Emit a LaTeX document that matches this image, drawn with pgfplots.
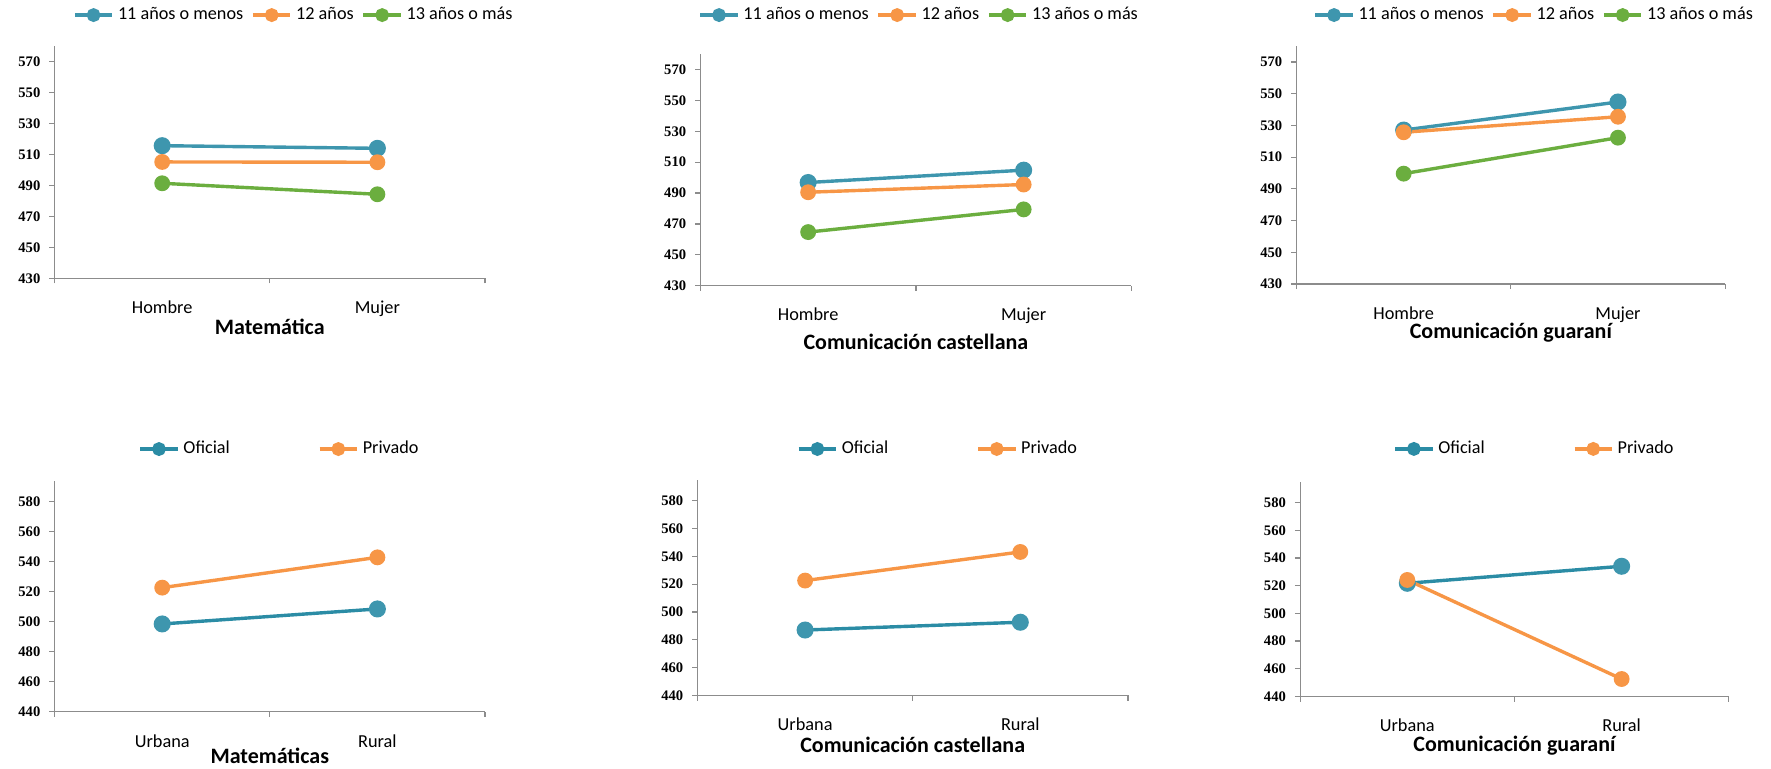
\documentclass[border=0pt]{standalone}
\usepackage{fontspec}
\setmainfont{Carlito}
\newfontfamily\tickfont{Liberation Serif}
\usepackage{pgfplots}
\pgfplotsset{compat=1.18}
\definecolor{cblue}{HTML}{3E96AE}
\definecolor{cblued}{HTML}{2B8CA5}
\definecolor{corange}{HTML}{F79646}
\definecolor{cgreen}{HTML}{6BAE3F}
\definecolor{axgray}{HTML}{8C8C8C}
\pgfplotsset{
  panel/.style={
    scale only axis,
    axis x line*=bottom, axis y line*=left,
    axis line style={-,draw=axgray,line width=0.6pt},
    xmin=0, xmax=2, xtick={0,1,2}, xticklabels={},
    tick align=outside, major tick length=2.6pt,
    tick style={draw=axgray,line width=0.6pt},
    /pgf/number format/assume math mode=true,
    yticklabel style={font=\tickfont\bfseries\fontsize{7.3}{8.5}\selectfont, xshift=-1pt},
    extra x tick style={major tick length=0pt,
      xticklabel style={font=\fontsize{9.15}{11}\selectfont, anchor=base}},
    xlabel style={at={(axis description cs:0.5,0)}, anchor=base, font=\bfseries\fontsize{11}{13}\selectfont},
    legend style={draw=none, fill=none, anchor=center, legend columns=-1,
      font=\fontsize{9.1}{11}\selectfont},
    legend image code/.code={
      \draw[#1,mark=none] (0pt,0pt) -- (18.75pt,0pt);
      \fill[#1] (9.375pt,0pt) circle (2.6pt);},
    clip=false,
  },
  sb/.style={color=cblue, line width=1.7pt, mark=*, mark size=3.4pt},
  so/.style={color=corange, line width=1.7pt, mark=*, mark size=3.1pt},
  sg/.style={color=cgreen, line width=1.7pt, mark=*, mark size=3.1pt},
  sbd/.style={color=cblued, line width=1.7pt, mark=*, mark size=3.4pt, mark options={fill=cblue,draw=cblue}},
}
\begin{document}
\begin{tikzpicture}
% ---------- Top row ----------
\begin{axis}[panel, at={(27.3pt,-139.15pt)}, anchor=south west,
  width=215.2pt, height=116.05pt, ymin=430, ymax=580, ytick={430,450,...,570},
  extra x ticks={0.5,1.5}, extra x tick labels={Hombre,Mujer},
  extra x tick style={xticklabel style={yshift=-17.85pt}},
  xlabel={Matemática}, xlabel style={yshift=-28.35pt},
  legend style={at={(axis description cs:0.558,1.134)}, /tikz/every even column/.append style={column sep=2pt}}]
\addplot[sb] coordinates {(0.5,515.7) (1.5,514.0)};
\addplot[so] coordinates {(0.5,505.2) (1.5,505.0)};
\addplot[sg] coordinates {(0.5,491.4) (1.5,484.3)};
\legend{11 años o menos,12 años,13 años o más}
\end{axis}
\begin{axis}[panel, at={(350.2pt,-142.85pt)}, anchor=south west,
  width=215.5pt, height=115.85pt, ymin=430, ymax=580, ytick={430,450,...,570},
  extra x ticks={0.5,1.5}, extra x tick labels={Hombre,Mujer},
  extra x tick style={xticklabel style={yshift=-17.5pt}},
  xlabel={Comunicación castellana}, xlabel style={yshift=-31.8pt},
  legend style={at={(axis description cs:0.51,1.168)}, /tikz/every even column/.append style={column sep=2pt}}]
\addplot[sb] coordinates {(0.5,496.8) (1.5,504.8)};
\addplot[so] coordinates {(0.5,490.5) (1.5,495.5)};
\addplot[sg] coordinates {(0.5,464.7) (1.5,479.4)};
\legend{11 años o menos,12 años,13 años o más}
\end{axis}
\begin{axis}[panel, at={(648.25pt,-142pt)}, anchor=south west,
  width=214.3pt, height=118.9pt, ymin=430, ymax=580, ytick={430,450,...,570},
  extra x ticks={0.5,1.5}, extra x tick labels={Hombre,Mujer},
  extra x tick style={xticklabel style={yshift=-17.65pt}},
  xlabel={Comunicación guaraní}, xlabel style={yshift=-27.4pt},
  legend style={at={(axis description cs:0.557,1.131)}, /tikz/every even column/.append style={column sep=2pt}}]
\addplot[sb] coordinates {(0.5,527.1) (1.5,544.8)};
\addplot[so] coordinates {(0.5,525.7) (1.5,535.5)};
\addplot[sg] coordinates {(0.5,499.6) (1.5,522.3)};
\legend{11 años o menos,12 años,13 años o más}
\end{axis}
% ---------- Bottom row ----------
\begin{axis}[panel, at={(27.3pt,-355.85pt)}, anchor=south west,
  width=215.2pt, height=115.5pt, ymin=440, ymax=594, ytick={440,460,...,580},
  extra x ticks={0.5,1.5}, extra x tick labels={Urbana,Rural},
  extra x tick style={xticklabel style={yshift=-17.8pt}},
  xlabel={Matemáticas}, xlabel style={yshift=-25.8pt},
  legend style={at={(axis description cs:0.525,1.137)}, /tikz/every even column/.append style={column sep=42pt}}]
\addplot[sbd] coordinates {(0.5,498.5) (1.5,508.5)};
\addplot[so] coordinates {(0.5,522.7) (1.5,542.9)};
\legend{Oficial,Privado}
\end{axis}
\begin{axis}[panel, at={(348.75pt,-347.65pt)}, anchor=south west,
  width=215.2pt, height=107.65pt, ymin=440, ymax=595, ytick={440,460,...,580},
  extra x ticks={0.5,1.5}, extra x tick labels={Urbana,Rural},
  extra x tick style={xticklabel style={yshift=-17.35pt}},
  xlabel={Comunicación castellana}, xlabel style={yshift=-28.7pt},
  legend style={at={(axis description cs:0.561,1.144)}, /tikz/every even column/.append style={column sep=42pt}}]
\addplot[sbd] coordinates {(0.5,487.0) (1.5,492.6)};
\addplot[so] coordinates {(0.5,522.6) (1.5,543.2)};
\legend{Oficial,Privado}
\end{axis}
\begin{axis}[panel, at={(650.05pt,-348.15pt)}, anchor=south west,
  width=214.35pt, height=107pt, ymin=440, ymax=594.7, ytick={440,460,...,580},
  extra x ticks={0.5,1.5}, extra x tick labels={Urbana,Rural},
  extra x tick style={xticklabel style={yshift=-17.7pt}},
  xlabel={Comunicación guaraní}, xlabel style={yshift=-27.35pt},
  legend style={at={(axis description cs:0.549,1.156)}, /tikz/every even column/.append style={column sep=42pt}}]
\addplot[sbd] coordinates {(0.5,521.7) (1.5,534.0)};
\addplot[so] coordinates {(0.5,524.1) (1.5,452.5)};
\legend{Oficial,Privado}
\end{axis}
\pgfresetboundingbox
\useasboundingbox (0pt,0pt) rectangle (885.5pt,-384.5pt);
\end{tikzpicture}
\end{document}
